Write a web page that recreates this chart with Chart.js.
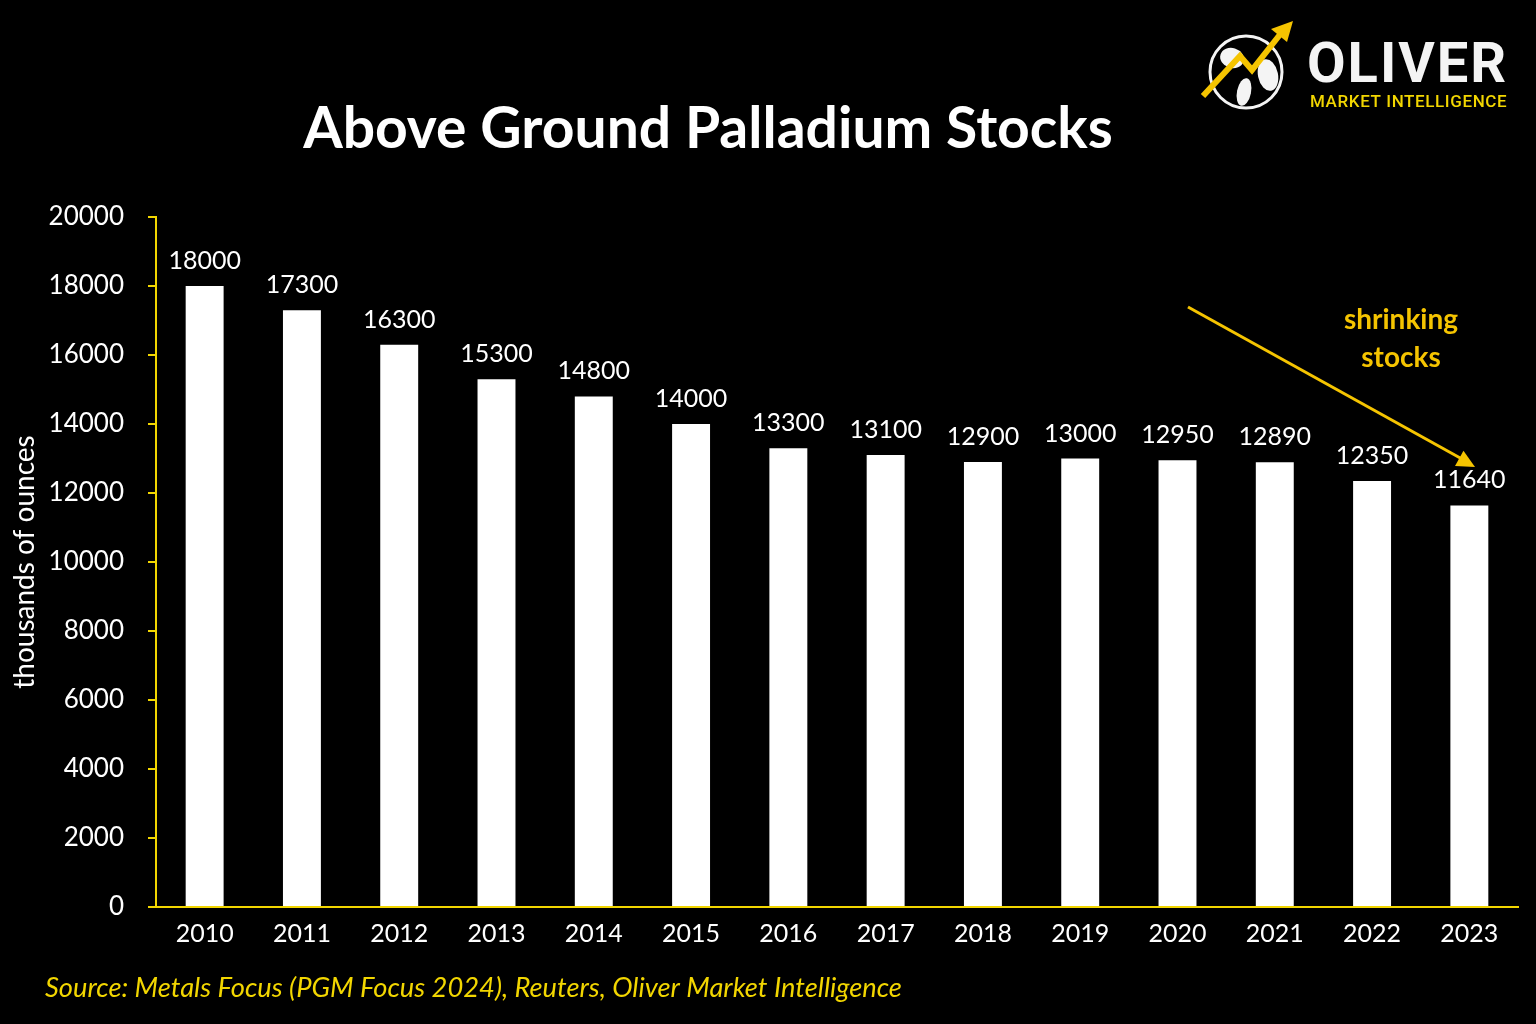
<!DOCTYPE html>
<html>
<head>
<meta charset="utf-8">
<script src="https://cdn.jsdelivr.net/npm/chart.js@4"></script>
<style>
  html, body { margin: 0; padding: 0; background: #000; }
  #wrap { width: 1536px; height: 1024px; position: relative; }
</style>
</head>
<body>
<div id="wrap"><canvas id="stockChart"></canvas></div>
<script>
// data
const years = ['2010','2011','2012','2013','2014','2015','2016','2017','2018','2019','2020','2021','2022','2023'];
const stocks = [18000, 17300, 16300, 15300, 14800, 14000, 13300, 13100, 12900, 13000, 12950, 12890, 12350, 11640];
const yTicks = [0, 2000, 4000, 6000, 8000, 10000, 12000, 14000, 16000, 18000, 20000];

const YELLOW = '#f2d600';
const GOLD = '#f5c400';

// value labels above each bar
const barLabels = {
  id: 'barLabels',
  afterDatasetsDraw(chart) {
    const ctx = chart.ctx;
    const meta = chart.getDatasetMeta(0);
    ctx.save();
    ctx.font = '25px Lato';
    ctx.fillStyle = '#ffffff';
    ctx.textAlign = 'center';
    ctx.textBaseline = 'middle';
    meta.data.forEach((bar, i) => {
      ctx.fillText(stocks[i], bar.x, bar.y - 25);
    });
    ctx.restore();
  }
};

// title, annotation, logo, source
const extras = {
  id: 'extras',
  afterDraw(chart) {
    const ctx = chart.ctx;
    ctx.save();

    ctx.fillStyle = '#ffffff';
    ctx.font = 'bold 57px Lato';
    ctx.textAlign = 'center';
    ctx.textBaseline = 'middle';
    ctx.fillText('Above Ground Palladium Stocks', 708, 130);

    // shrinking stocks arrow
    ctx.strokeStyle = GOLD;
    ctx.fillStyle = GOLD;
    ctx.lineWidth = 3;
    ctx.beginPath();
    ctx.moveTo(1188, 307);
    ctx.lineTo(1462, 459);
    ctx.stroke();
    const ang = Math.atan2(466 - 307, 1475 - 1188);
    ctx.beginPath();
    ctx.moveTo(1475, 467);
    ctx.lineTo(1475 - 20 * Math.cos(ang - 0.45), 467 - 20 * Math.sin(ang - 0.45));
    ctx.lineTo(1475 - 20 * Math.cos(ang + 0.45), 467 - 20 * Math.sin(ang + 0.45));
    ctx.closePath();
    ctx.fill();

    ctx.font = 'bold 28px Lato';
    ctx.fillText('shrinking', 1401, 320);
    ctx.fillText('stocks', 1401, 358);

    // source
    ctx.font = 'italic 27.3px Lato';
    ctx.fillStyle = YELLOW;
    ctx.textAlign = 'left';
    ctx.fillText('Source: Metals Focus (PGM Focus 2024), Reuters, Oliver Market Intelligence', 45, 988);

    // logo: globe
    ctx.strokeStyle = '#f4f4f4';
    ctx.lineWidth = 3;
    ctx.beginPath();
    ctx.arc(1246, 72, 36, 0, Math.PI * 2);
    ctx.stroke();
    ctx.fillStyle = '#f4f4f4';
    ctx.beginPath();
    ctx.ellipse(1232, 58, 12, 10, 0.3, 0, Math.PI * 2);
    ctx.fill();
    ctx.beginPath();
    ctx.ellipse(1244, 92, 7, 14, 0.2, 0, Math.PI * 2);
    ctx.fill();
    ctx.beginPath();
    ctx.ellipse(1268, 75, 10, 16, -0.2, 0, Math.PI * 2);
    ctx.fill();
    // logo: zigzag arrow
    ctx.strokeStyle = GOLD;
    ctx.fillStyle = GOLD;
    ctx.lineWidth = 6;
    ctx.beginPath();
    ctx.moveTo(1203, 96);
    ctx.lineTo(1240, 56);
    ctx.lineTo(1252, 70);
    ctx.lineTo(1282, 32);
    ctx.stroke();
    ctx.beginPath();
    ctx.moveTo(1293, 21);
    ctx.lineTo(1271, 29);
    ctx.lineTo(1287, 42);
    ctx.closePath();
    ctx.fill();

    ctx.fillStyle = '#f4f4f4';
    ctx.font = 'bold 56px Roboto';
    ctx.letterSpacing = '2px';
    ctx.textAlign = 'left';
    ctx.textBaseline = 'alphabetic';
    ctx.fillText('OLIVER', 1307, 82);
    ctx.fillStyle = YELLOW;
    ctx.font = '500 17px Roboto';
    ctx.letterSpacing = '0.6px';
    ctx.fillText('MARKET INTELLIGENCE', 1310, 107);

    ctx.restore();
  }
};

Chart.defaults.font.family = 'Lato';
Chart.defaults.color = '#ffffff';

new Chart(document.getElementById('stockChart'), {
  type: 'bar',
  data: {
    labels: years,
    datasets: [{
      label: 'Above ground stocks',
      data: stocks,
      backgroundColor: '#ffffff',
      barPercentage: 0.39,
      categoryPercentage: 1.0
    }]
  },
  options: {
    responsive: true,
    maintainAspectRatio: false,
    animation: false,
    layout: { padding: { left: 8, right: 18, top: 217, bottom: 71 } },
    plugins: {
      legend: { display: false },
      tooltip: { enabled: false }
    },
    scales: {
      x: {
        grid: { display: false },
        border: { color: YELLOW, width: 2 },
        ticks: { color: '#ffffff', font: { size: 25 }, padding: 4 }
      },
      y: {
        min: 0,
        max: 20000,
        afterBuildTicks(scale) { scale.ticks = yTicks.map(v => ({ value: v })); },
        afterFit(scale) { scale.width = 148; },
        grid: { drawOnChartArea: false, drawTicks: true, tickLength: 8, color: YELLOW, lineWidth: 2 },
        border: { color: YELLOW, width: 2 },
        ticks: {
          color: '#ffffff',
          font: { size: 26 },
          padding: 24,
          callback: v => String(v)
        },
        title: {
          display: true,
          text: 'thousands of ounces',
          color: '#ffffff',
          font: { size: 28 },
          padding: 0
        }
      }
    }
  },
  plugins: [barLabels, extras]
});
</script>
</body>
</html>
